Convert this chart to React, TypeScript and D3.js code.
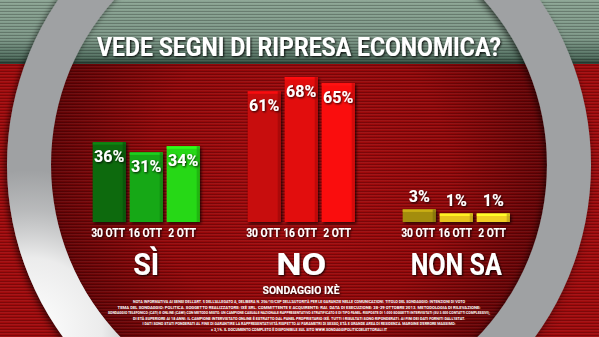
import React from "react";
import * as d3 from "d3";

const W = 599;
const H = 337;

const title = "VEDE SEGNI DI RIPRESA ECONOMICA?";
const groups = ["SÌ", "NO", "NON SA"];
const dates = ["30 OTT", "16 OTT", "2 OTT"];
const siValues = [36, 31, 34];
const noValues = [61, 68, 65];
const nonSaValues = [3, 1, 1];
const siColors = ["#0b6b0e", "#18a818", "#27d814"];
const noColors = ["#c80a0c", "#e20a0c", "#fa0f0f"];
const nonSaColors = ["#a38d10", "#e6c41c", "#f0cf20"];
const source = "SONDAGGIO IXÈ";
const finePrint = [
  "NOTA INFORMATIVA AI SENSI DELL'ART. 5 DELL'ALLEGATO A, DELIBERA N. 256/10/CSP DELL'AUTORITÀ PER LE GARANZIE NELLE COMUNICAZIONI. TITOLO DEL SONDAGGIO: INTENZIONI DI VOTO",
  "TEMA DEL SONDAGGIO: POLITICA. SOGGETTO REALIZZATORE: IXÈ SRL. COMMITTENTE E ACQUIRENTE: RAI. DATA DI ESECUZIONE: 28-29 OTTOBRE 2013. METODOLOGIA DI RILEVAZIONE:",
  "SONDAGGIO TELEFONICO (CATI) E ONLINE (CAWI) CON METODO MISTO. UN CAMPIONE CASUALE NAZIONALE RAPPRESENTATIVO STRATIFICATO E DI TIPO PANEL. RISPOSTE DI 1.000 SOGGETTI INTERVISTATI (SU 3.500 CONTATTI COMPLESSIVI),",
  "DI ETÀ SUPERIORE AI 18 ANNI. IL CAMPIONE INTERVISTATO ONLINE È ESTRATTO DAL PANEL PROPRIETARIO IXÈ. TUTTI I RISULTATI SONO RIPONDERATI. AI FINI DEI DATI FORNITI DALL'ISTAT.",
  "I DATI SONO STATI PONDERATI AL FINE DI GARANTIRE LA RAPPRESENTATIVITÀ RISPETTO AI PARAMETRI DI SESSO, ETÀ E GRANDE AREA DI RESIDENZA. MARGINE D'ERRORE MASSIMO:",
  "± 3,1%. IL DOCUMENTO COMPLETO È DISPONIBILE SUL SITO WWW.SONDAGGIPOLITICOELETTORALI.IT",
];
const finePrintWidths = [332, 363, 382, 332, 313, 176];

const series = [siValues, noValues, nonSaValues];
const seriesColors = [siColors, noColors, nonSaColors];

const xGroup = d3.scalePoint<string>().domain(groups).range([146.2, 456.2]);
const xBar = d3.scaleBand<string>().domain(dates).range([-53.5, 53.5]).paddingInner(0.108);
const yScale = d3.scaleLinear().domain([0, 68]).range([215.5, 77]);
const baseY = 222;

const ringCx = 299;
const ringCy = 165;
const ringArc = d3.arc()({
  innerRadius: 248,
  outerRadius: 292,
  startAngle: 0,
  endAngle: Math.PI * 2,
} as any) as string;

export default function App() {
  return (
    <svg
      width={W}
      height={H}
      viewBox={`0 0 ${W} ${H}`}
      style={{ position: "absolute", left: 0, top: 0, display: "block" }}
    >
      <defs>
        <linearGradient id="band" x1="0" y1="0" x2="0" y2="1">
          <stop offset="0" stopColor="#8aa392" />
          <stop offset="0.6" stopColor="#7c9686" />
          <stop offset="0.9" stopColor="#4f6c5d" />
          <stop offset="1" stopColor="#263c31" />
        </linearGradient>
        <radialGradient id="red" cx="300" cy="175" r="300" gradientUnits="userSpaceOnUse">
          <stop offset="0" stopColor="#a60a0d" />
          <stop offset="0.5" stopColor="#920709" />
          <stop offset="0.82" stopColor="#640305" />
          <stop offset="1" stopColor="#a00a0c" />
        </radialGradient>
        <pattern id="stripes" width="4" height="3" patternUnits="userSpaceOnUse">
          <rect x="0" y="2" width="4" height="1" fill="#000" opacity="0.22" />
          <rect x="0" y="0" width="4" height="1" fill="#fff" opacity="0.05" />
        </pattern>
        <radialGradient
          id="ringGlow"
          cx={30 - ringCx}
          cy={330 - ringCy}
          r={160}
          gradientUnits="userSpaceOnUse"
        >
          <stop offset="0" stopColor="#ffffff" stopOpacity={1} />
          <stop offset="0.45" stopColor="#f4f4f4" stopOpacity={0.9} />
          <stop offset="0.75" stopColor="#e8e8e8" stopOpacity={0.35} />
          <stop offset="1" stopColor="#e8e8e8" stopOpacity={0} />
        </radialGradient>
        <filter id="shadow" x="-20%" y="-20%" width="150%" height="150%">
          <feDropShadow dx="1.5" dy="1.5" stdDeviation="1.5" floodColor="#000" floodOpacity="0.8" />
        </filter>
        <filter id="ringShadow" x="-10%" y="-10%" width="120%" height="120%">
          <feDropShadow dx="-2" dy="2" stdDeviation="3" floodColor="#000" floodOpacity="0.6" />
        </filter>
        <filter id="txt" x="-20%" y="-30%" width="150%" height="170%">
          <feDropShadow dx="1" dy="1" stdDeviation="1" floodColor="#000" floodOpacity="0.9" />
        </filter>
      </defs>

      <rect x={0} y={0} width={W} height={H} fill="url(#red)" />
      <rect x={0} y={0} width={W} height={64} fill="url(#band)" />
      <rect x={0} y={0} width={W} height={H} fill="url(#stripes)" />

      <g transform={`translate(${ringCx},${ringCy})`}>
        <path d={ringArc} fill="#9fa1a3" filter="url(#ringShadow)" />
        <path d={ringArc} fill="url(#ringGlow)" />
      </g>

      <text
        x={299}
        y={56}
        textAnchor="middle"
        fontFamily="'Liberation Sans Narrow', 'Roboto', sans-serif"
        fontWeight={700}
        fontSize={26}
        fill="#ffffff"
        textLength={404}
        lengthAdjust="spacingAndGlyphs"
        filter="url(#txt)"
      >
        {title}
      </text>

      {groups.map((g, gi) => {
        const cx = xGroup(g) as number;
        const vals = series[gi];
        const cols = seriesColors[gi];
        return (
          <g key={g}>
            {dates.map((d, di) => {
              const v = vals[di];
              const x = cx + (xBar(d) as number);
              const bw = xBar.bandwidth();
              const top = yScale(v);
              const h = baseY - top;
              const c = d3.color(cols[di])!;
              const light = c.brighter(0.6).formatHex();
              const dark = c.darker(0.7).formatHex();
              const inside = h > 30;
              return (
                <g key={d}>
                  <rect x={x} y={top} width={bw} height={h} fill={cols[di]} filter="url(#shadow)" />
                  <rect x={x} y={top} width={bw} height={2.5} fill={light} />
                  <rect x={x + bw - 3} y={top} width={3} height={h} fill={dark} opacity={0.7} />
                  <text
                    x={x + bw / 2}
                    y={inside ? top + 20 : top - 7}
                    textAnchor="middle"
                    fontFamily="Roboto, sans-serif"
                    fontWeight={700}
                    fontSize={16}
                    fill="#ffffff"
                    filter="url(#txt)"
                  >
                    {v}%
                  </text>
                  <text
                    x={x + bw / 2 - 1}
                    y={237}
                    textAnchor="middle"
                    fontFamily="'Liberation Sans Narrow', Roboto, sans-serif"
                    fontWeight={700}
                    fontSize={12}
                    fill="#ffffff"
                    textLength={d.length > 5 ? 34 : 28}
                    lengthAdjust="spacingAndGlyphs"
                    filter="url(#txt)"
                  >
                    {d}
                  </text>
                </g>
              );
            })}
            <text
              x={cx}
              y={275}
              textAnchor="middle"
              fontFamily="'Liberation Sans Narrow', 'Roboto', sans-serif"
              fontWeight={700}
              fontSize={32}
              fill="#ffffff"
              textLength={g === "NON SA" ? 91 : g === "NO" ? 50 : 26}
              lengthAdjust="spacingAndGlyphs"
              filter="url(#txt)"
            >
              {g}
            </text>
          </g>
        );
      })}

      <text
        x={301}
        y={294}
        textAnchor="middle"
        fontFamily="Roboto, sans-serif"
        fontWeight={700}
        fontSize={11}
        fill="#ffffff"
        textLength={77}
        lengthAdjust="spacingAndGlyphs"
        filter="url(#txt)"
      >
        {source}
      </text>
      {finePrint.map((line, i) => (
        <text
          key={i}
          x={299}
          y={303 + i * 5.6}
          textAnchor="middle"
          fontFamily="Roboto, sans-serif"
          fontWeight={700}
          fontSize={4.2}
          fill="#ffffff"
          textLength={finePrintWidths[i]}
          lengthAdjust="spacingAndGlyphs"
        >
          {line}
        </text>
      ))}
    </svg>
  );
}
